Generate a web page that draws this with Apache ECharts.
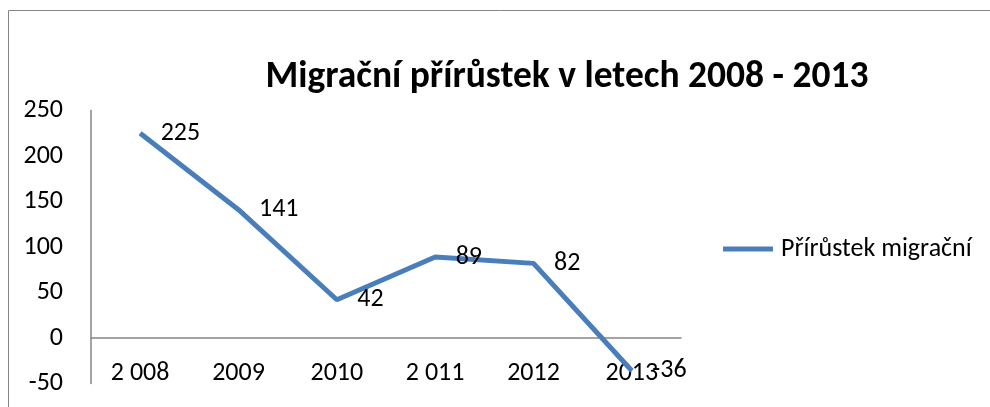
<!DOCTYPE html>
<html>
<head>
<meta charset="utf-8">
<script src="https://cdn.jsdelivr.net/npm/echarts@6/dist/echarts.min.js"></script>
<style>
  html, body { margin: 0; padding: 0; background: #fff; overflow: hidden; }
  #chart { width: 990px; height: 407px; }
</style>
</head>
<body>
<div id="chart"></div>
<script>
// data
var years = ['2 008', '2009', '2010', '2 011', '2012', '2013'];
var migrace = [225, 141, 42, 89, 82, -36];
var seriesName = 'Přírůstek migrační';
var titleText = 'Migrační přírůstek v letech 2008 - 2013';

var font = 'Carlito, Lato, "Liberation Sans", sans-serif';
var blue = '#4a7ebb';
var grey = '#868686';

var myChart = echarts.init(document.getElementById('chart'));
myChart.setOption({
    animation: false,
    textStyle: { fontFamily: font, color: '#000' },
    title: {
        text: titleText,
        left: 562,
        textAlign: 'center',
        top: 54,
        textStyle: { fontFamily: font, fontSize: 37.5, fontWeight: 'bold', color: '#000' }
    },
    graphic: [{
        type: 'rect',
        shape: { x: 8.5, y: 10.5, width: 1100, height: 500 },
        style: { fill: null, stroke: grey, lineWidth: 1 },
        silent: true
    }],
    legend: {
        left: 718,
        top: 231,
        icon: 'path://M0,0 L10,0 L10,1 L0,1 Z',
        itemWidth: 56,
        itemHeight: 5,
        itemGap: 4,
        textStyle: { fontFamily: font, fontSize: 26, color: '#000' },
        data: [{ name: seriesName, itemStyle: { color: blue } }]
    },
    grid: {
        left: 91,
        top: 110.5,
        right: 309,
        bottom: 23.5,
        outerBoundsMode: 'none',
        containLabel: false
    },
    xAxis: {
        type: 'category',
        data: years,
        boundaryGap: true,
        axisLine: { onZero: true, lineStyle: { color: grey, width: 1.5 } },
        axisTick: { show: false },
        axisLabel: { margin: 3, verticalAlign: 'bottom', fontSize: 26, color: '#000', fontFamily: font },
        splitLine: { show: false }
    },
    yAxis: {
        type: 'value',
        min: -50,
        max: 250,
        interval: 50,
        axisLine: { show: true, lineStyle: { color: grey, width: 1.5 } },
        axisTick: { show: false },
        axisLabel: { margin: 28, fontSize: 26, color: '#000', fontFamily: font },
        splitLine: { show: false }
    },
    series: [{
        name: seriesName,
        type: 'line',
        data: migrace,
        symbol: 'circle',
        symbolSize: 1,
        showSymbol: true,
        lineStyle: { color: blue, width: 5 },
        itemStyle: { color: blue },
        label: {
            show: true,
            position: 'right',
            distance: 20,
            fontSize: 26,
            color: '#000',
            fontFamily: font
        }
    }]
});
</script>
</body>
</html>
